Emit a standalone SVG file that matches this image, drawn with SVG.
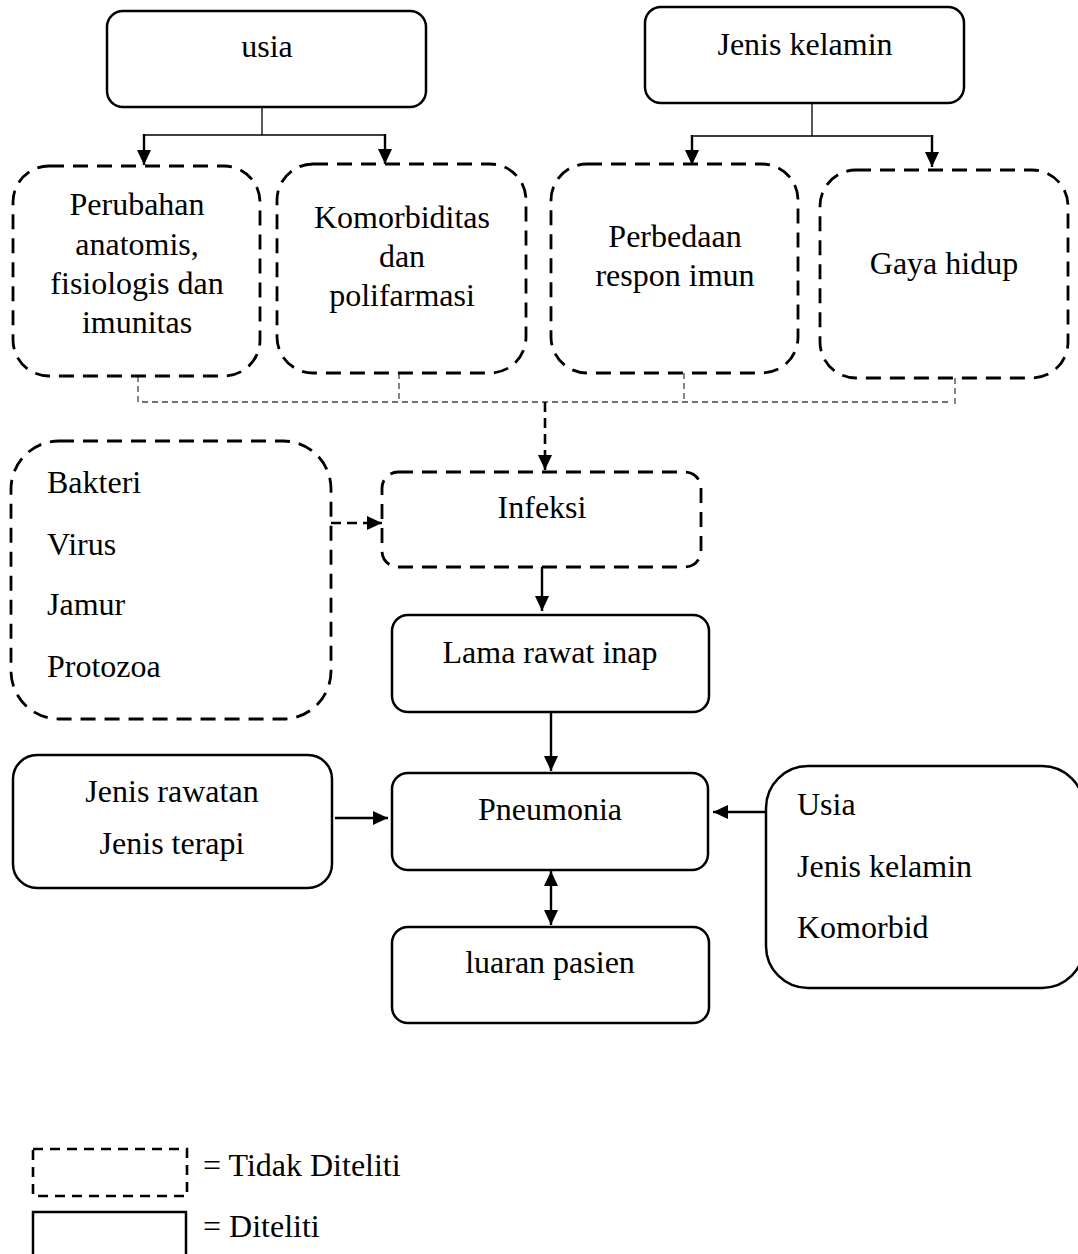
<svg xmlns="http://www.w3.org/2000/svg" width="1078" height="1254" viewBox="0 0 1078 1254">
<style>
.t{font-family:"Liberation Serif","Times New Roman",serif;font-size:32px;fill:#000}
.c{text-anchor:middle}
.solid{fill:#fff;stroke:#000;stroke-width:2.5}
.dash{fill:#fff;stroke:#000;stroke-width:2.8;stroke-dasharray:15 9}
.thin{fill:none;stroke:#000;stroke-width:1.3}
.shaft{fill:none;stroke:#000;stroke-width:2.4}
.tdash{fill:none;stroke:#444;stroke-width:1.3;stroke-dasharray:6 4}
.kdash{fill:none;stroke:#000;stroke-width:2.6;stroke-dasharray:10 6}
</style>
<defs>
<marker id="ah" markerUnits="userSpaceOnUse" viewBox="0 0 15 14" markerWidth="15" markerHeight="14" refX="15" refY="7" orient="auto-start-reverse">
<path d="M0,0 L15,7 L0,14 z" fill="#000"/>
</marker>
</defs>
<rect width="1078" height="1254" fill="#fff"/>

<g id="connectors">
<path class="thin" d="M262,107 V135 M143,135 H385"/>
<path class="shaft" d="M144,134 V165" marker-end="url(#ah)"/>
<path class="shaft" d="M385,134 V164" marker-end="url(#ah)"/>
<path class="thin" d="M812,103 V136 M692,136 H932"/>
<path class="shaft" d="M692,135 V165" marker-end="url(#ah)"/>
<path class="shaft" d="M932,135 V167" marker-end="url(#ah)"/>
<path class="tdash" d="M138,376 V402 H952 M399,373 V402 M684,373 V402 M955,378 V405"/>
<path class="kdash" d="M545,402 V470" marker-end="url(#ah)"/>
<path class="kdash" d="M331,523 H382" marker-end="url(#ah)"/>
<path class="shaft" d="M542,567 V611" marker-end="url(#ah)"/>
<path class="shaft" d="M551,712 V771" marker-end="url(#ah)"/>
<path class="shaft" d="M551,871 V925" marker-start="url(#ah)" marker-end="url(#ah)"/>
<path class="shaft" d="M335,818 H388" marker-end="url(#ah)"/>
<path class="shaft" d="M766,812 H713" marker-end="url(#ah)"/>
</g>

<g id="usia">
<rect class="solid" x="107" y="11" width="319" height="96" rx="16"/>
<text class="t c" x="267" y="57">usia</text>
</g>
<g id="jenis-kelamin">
<rect class="solid" x="645" y="7" width="319" height="96" rx="16"/>
<text class="t c" x="805" y="55">Jenis kelamin</text>
</g>

<g id="perubahan">
<rect class="dash" x="13" y="166" width="247" height="210" rx="36"/>
<text class="t c" x="137" y="215">Perubahan</text>
<text class="t c" x="137" y="255">anatomis,</text>
<text class="t c" x="137" y="294">fisiologis dan</text>
<text class="t c" x="137" y="333">imunitas</text>
</g>
<g id="komorbiditas">
<rect class="dash" x="277" y="164" width="249" height="209" rx="36"/>
<text class="t c" x="402" y="228">Komorbiditas</text>
<text class="t c" x="402" y="267">dan</text>
<text class="t c" x="402" y="306">polifarmasi</text>
</g>
<g id="perbedaan">
<rect class="dash" x="551" y="164" width="247" height="209" rx="36"/>
<text class="t c" x="675" y="247">Perbedaan</text>
<text class="t c" x="675" y="286">respon imun</text>
</g>
<g id="gaya-hidup">
<rect class="dash" x="820" y="170" width="248" height="208" rx="36"/>
<text class="t c" x="944" y="274">Gaya hidup</text>
</g>

<g id="patogen">
<rect class="dash" x="11" y="441" width="320" height="278" rx="48"/>
<text class="t" x="47" y="493">Bakteri</text>
<text class="t" x="47" y="555">Virus</text>
<text class="t" x="47" y="615">Jamur</text>
<text class="t" x="47" y="677">Protozoa</text>
</g>
<g id="infeksi">
<rect class="dash" x="382" y="472" width="319" height="95" rx="16"/>
<text class="t c" x="542" y="518">Infeksi</text>
</g>
<g id="lama-rawat-inap">
<rect class="solid" x="392" y="615" width="317" height="97" rx="16"/>
<text class="t c" x="550" y="663">Lama rawat inap</text>
</g>
<g id="pneumonia">
<rect class="solid" x="392" y="773" width="316" height="97" rx="16"/>
<text class="t c" x="550" y="820">Pneumonia</text>
</g>
<g id="luaran-pasien">
<rect class="solid" x="392" y="927" width="317" height="96" rx="16"/>
<text class="t c" x="550" y="973">luaran pasien</text>
</g>
<g id="jenis-rawatan">
<rect class="solid" x="13" y="755" width="319" height="133" rx="24"/>
<text class="t c" x="172" y="802">Jenis rawatan</text>
<text class="t c" x="172" y="854">Jenis terapi</text>
</g>
<g id="faktor-pasien">
<rect class="solid" x="766" y="766" width="318" height="222" rx="42"/>
<text class="t" x="797" y="815">Usia</text>
<text class="t" x="797" y="877">Jenis kelamin</text>
<text class="t" x="797" y="938">Komorbid</text>
</g>

<g id="legend">
<rect x="33" y="1149" width="154" height="47" fill="none" stroke="#000" stroke-width="2.6" stroke-dasharray="10 7"/>
<text class="t" x="203" y="1176">= Tidak Diteliti</text>
<rect x="33" y="1212" width="153" height="60" fill="none" stroke="#000" stroke-width="2.5"/>
<text class="t" x="203" y="1237">= Diteliti</text>
</g>
</svg>
